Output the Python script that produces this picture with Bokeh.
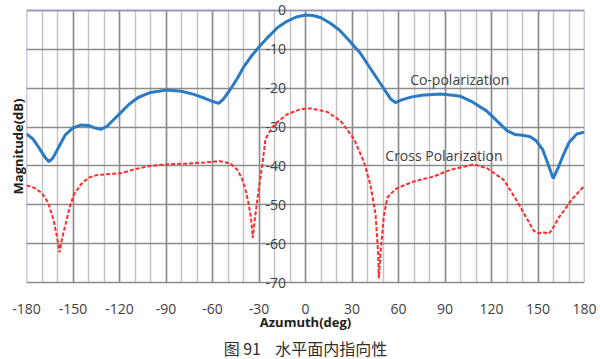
from bokeh.plotting import figure
from bokeh.models import FixedTicker, Grid, Range1d, Title, ColumnDataSource
from bokeh.core.properties import value
from bokeh.embed import file_html
from bokeh.resources import INLINE

# Co-polarization pattern (azimuth deg, magnitude dB)
co_az = [-180, -176, -172, -168, -165.5, -163, -159, -155, -150, -145, -140, -136, -132,
         -128, -124, -120, -114, -108, -100, -90, -80, -72, -65, -60, -56, -53, -49, -44,
         -40, -35, -30, -24, -18, -12, -6, 0, 5, 10, 16, 22, 28, 35, 42, 48, 52, 55, 58,
         62, 68, 75, 87, 95, 100, 108, 117, 124, 130, 135, 140, 145, 149, 153, 156, 159.8,
         163, 166, 170, 175, 180]
co_db = [-31.8, -33.0, -35.3, -37.8, -38.9, -38.0, -35.0, -32.0, -30.2, -29.5, -29.6, -30.2,
         -30.6, -29.8, -28.2, -26.6, -24.2, -22.4, -21.1, -20.5, -20.8, -21.6, -22.6, -23.4,
         -23.9, -22.8, -20.6, -17.5, -14.6, -11.8, -9.4, -6.8, -4.4, -2.8, -1.7, -1.2, -1.3,
         -1.9, -3.3, -5.1, -7.7, -10.8, -15.0, -18.6, -21.0, -22.8, -23.7, -23.0, -22.3,
         -21.8, -21.5, -21.8, -22.1, -23.6, -25.9, -28.6, -30.9, -31.9, -32.1, -32.5, -33.6,
         -35.8, -39.0, -43.2, -40.5, -37.5, -34.0, -31.8, -31.3]

# Cross-polarization pattern (azimuth deg, magnitude dB)
cx_az = [-180, -175, -170, -166, -162.4, -160, -158.7, -157, -154.8, -152, -149.5, -145,
         -140, -135, -125, -119, -110, -100, -90, -76, -65, -55, -48.4, -44, -41, -38.5,
         -36.6, -35, -34, -32.5, -30.1, -28, -25.8, -21.5, -18.3, -11.8, -3.2, 3.2, 14,
         22.6, 31.2, 37.6, 41.9, 45.2, 46.9, 47.3, 48.5, 50.5, 52.7, 54.8, 59.2, 69.9, 82.8,
         93.5, 108.6, 117.2, 127.9, 136.6, 147.3, 150, 153.8, 157, 159.2, 163, 166.6, 172,
         179.5]
cx_db = [-45.0, -45.6, -47.0, -49.5, -54.1, -59.0, -62.2, -58.5, -55.0, -50.5, -47.4, -44.8,
         -43.0, -42.4, -42.0, -41.9, -40.8, -40.0, -39.6, -39.4, -39.1, -38.8, -39.4, -41.0,
         -43.2, -46.5, -49.9, -54.0, -58.5, -53.0, -45.7, -40.0, -33.0, -30.1, -28.8, -26.7,
         -25.4, -25.2, -26.1, -28.4, -33.0, -38.9, -44.9, -52.5, -62.6, -68.9, -62.0, -53.0,
         -48.2, -47.2, -45.7, -44.0, -42.7, -41.0, -39.6, -40.6, -43.6, -49.1, -56.7, -57.3,
         -57.1, -57.4, -56.3, -53.5, -51.6, -48.5, -45.3]

x_ticks = [-180, -150, -120, -90, -60, -30, 0, 30, 60, 90, 120, 150, 180]
x_tick_labels = [str(t) for t in x_ticks]
x_minor = list(range(-180, 181, 10))
y_ticks = [0, -10, -20, -30, -40, -50, -60, -70]
y_tick_labels = [str(v) for v in y_ticks]

label_font = "Open Sans"
label_color = "#404040"
x_lo, x_hi = x_ticks[0], x_ticks[-1]
y_top, y_bot = y_ticks[0], y_ticks[-1]
pad = 2.03  # headroom so the 0 and -70 labels are not clipped

p = figure(width=600, height=359, x_range=Range1d(x_lo, x_hi),
           y_range=Range1d(y_bot - pad, y_top + pad),
           output_backend="svg", toolbar_location=None,
           min_border_left=26, min_border_right=16, min_border_top=2, min_border_bottom=65)
p.background_fill_color = "white"
p.border_fill_color = "white"
p.outline_line_color = None

# Grid: minor 10-degree verticals, major 30-degree verticals, 10 dB horizontals
p.xgrid.visible = False
p.ygrid.visible = False
p.add_layout(Grid(dimension=0, ticker=FixedTicker(ticks=x_minor), cross_bounds=(y_bot, y_top),
                  grid_line_color="#C4C4C4", grid_line_width=1.5))
p.add_layout(Grid(dimension=0, ticker=FixedTicker(ticks=x_ticks), cross_bounds=(y_bot, y_top),
                  grid_line_color="#8C8C8C", grid_line_width=1.5))
p.add_layout(Grid(dimension=1, ticker=FixedTicker(ticks=y_ticks), cross_bounds=(x_lo, x_hi),
                  grid_line_color="#8C8C8C", grid_line_width=1.5))

# Plot-area border on the left, top and right
p.segment(x0=[x_lo, x_lo, x_hi], y0=[y_bot, y_top, y_top],
          x1=[x_lo, x_hi, x_hi], y1=[y_top, y_top, y_bot],
          line_color="#9A92C4", line_width=1.5)

# X axis along the bottom
p.xaxis.ticker = FixedTicker(ticks=x_ticks)
p.xaxis.major_label_overrides = dict(zip(x_ticks, x_tick_labels))
p.xaxis.axis_line_color = None
p.xaxis.major_tick_line_color = None
p.xaxis.minor_tick_line_color = None
p.xaxis.major_label_standoff = 7
p.xaxis.major_label_text_font = label_font
p.xaxis.major_label_text_font_size = "14px"
p.xaxis.major_label_text_color = label_color
p.xaxis.axis_label = "Azumuth(deg)"
p.xaxis.axis_label_text_font = label_font
p.xaxis.axis_label_text_font_size = "13px"
p.xaxis.axis_label_text_font_style = "bold"
p.xaxis.axis_label_text_color = "#202020"
p.xaxis.axis_label_standoff = -4

# Y axis title on the left; tick labels sit beside the 0-degree line
p.yaxis.visible = False
p.add_layout(Title(text="Magnitude(dB)", align="center", text_font=label_font,
                   text_font_size="13px", text_font_style="bold", text_color="#202020",
                   offset=0, standoff=0), "left")

ysrc = ColumnDataSource(dict(x=[-12.5] * len(y_ticks), y=y_ticks, t=y_tick_labels))
p.text(x="x", y="y", text="t", source=ysrc, text_align="right", text_baseline="middle",
       text_font=value(label_font), text_font_size="14px", text_color=label_color)

# Pattern curves
p.line(co_az, co_db, line_color="#2B7BC4", line_width=3)
p.line(cx_az, cx_db, line_color="#FF2B2B", line_width=2, line_dash="4 2")

# Curve annotations
p.text(x=[67.5], y=[-17.8], text=["Co-polarization"], text_font=value(label_font),
       text_font_size="14px", text_color=label_color, text_baseline="middle")
p.text(x=[51.5], y=[-37.3], text=["Cross Polarization"], text_font=value(label_font),
       text_font_size="14px", text_color=label_color, text_baseline="middle")

# Figure caption
p.add_layout(Title(text="图 91\u00a0\u00a0\u00a0\u00a0水平面内指向性", align="center",
                   text_font="Noto Sans CJK SC", text_font_size="16px",
                   text_font_style="normal", text_color="#303030",
                   offset=0, standoff=0), "below")

open("out.html", "w").write(file_html(p, INLINE))
